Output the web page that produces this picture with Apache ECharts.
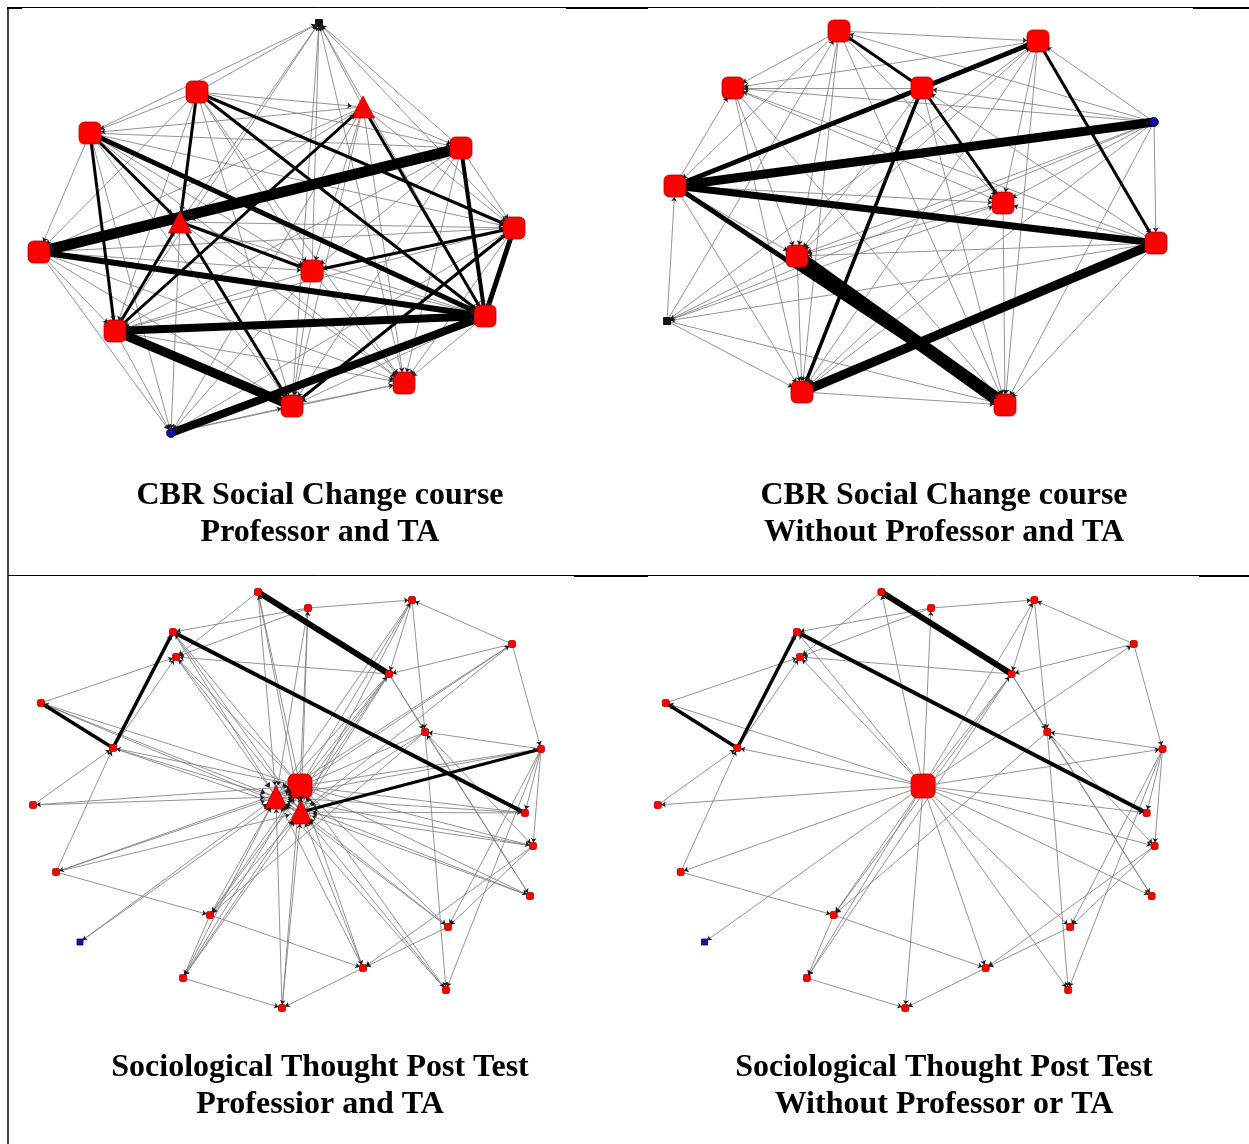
<!DOCTYPE html>
<html>
<head>
<meta charset="utf-8">
<title>Network diagrams</title>
<script src="https://cdn.jsdelivr.net/npm/echarts@6/dist/echarts.min.js"></script>
<style>
  html, body { margin: 0; padding: 0; background: #ffffff; }
  #chart { width: 1249px; height: 1144px; }
</style>
</head>
<body>
<div id="chart"></div>
<script>
// ---------------------------------------------------------------
// CBR Social Change course, professor and TA included
// node: [id, layoutX, layoutY, role]
// ---------------------------------------------------------------
const cbrWithNodes = [
  ['Z', 311, 15, 'other'],
  ['a', 189, 84, 'student'],
  ['TA1', 355, 99, 'instructor'],
  ['b', 82, 125, 'student'],
  ['c', 453, 140, 'student'],
  ['TP', 172, 214, 'instructor'],
  ['d', 31, 244, 'student'],
  ['e', 506, 220, 'student'],
  ['f', 304, 263, 'student'],
  ['g', 477, 308, 'student'],
  ['h', 107, 323, 'student'],
  ['i', 396, 375, 'student'],
  ['j', 284, 398, 'student'],
  ['k', 163, 425, 'community']
];

// tie: [from, to, strength]
const cbrWithLinks = [
  ['c', 'd', 11], ['g', 'd', 6], ['g', 'h', 8], ['j', 'h', 9], ['k', 'g', 8], ['b', 'g', 5], ['b', 'h', 3],
  ['b', 'TP', 3], ['TP', 'f', 3], ['a', 'TP', 3], ['a', 'e', 3], ['a', 'g', 3], ['h', 'TA1', 3], ['TA1', 'g', 3], ['TP', 'j', 3],
  ['h', 'TP', 3], ['c', 'g', 4], ['e', 'g', 5], ['e', 'f', 3], ['j', 'e', 3],
  ['a', 'Z', 1], ['TA1', 'Z', 1], ['b', 'Z', 1], ['c', 'Z', 1], ['TP', 'Z', 1], ['e', 'Z', 1], ['f', 'Z', 1],
  ['g', 'Z', 1], ['i', 'Z', 1], ['j', 'Z', 1], ['h', 'Z', 1],
  ['a', 'TA1', 1], ['a', 'b', 1], ['a', 'c', 1], ['a', 'd', 1], ['a', 'f', 1], ['a', 'h', 1], ['a', 'i', 1], ['a', 'j', 1],
  ['TA1', 'b', 1], ['TA1', 'c', 1], ['TA1', 'TP', 1], ['TA1', 'e', 1], ['TA1', 'f', 1], ['TA1', 'i', 1], ['TA1', 'j', 1], ['TA1', 'k', 1], ['TA1', 'd', 1],
  ['b', 'c', 1], ['b', 'd', 1], ['b', 'e', 1], ['b', 'f', 1], ['b', 'i', 1], ['b', 'j', 1], ['b', 'k', 1],
  ['c', 'TP', 1], ['c', 'e', 1], ['c', 'f', 1], ['c', 'h', 1], ['c', 'i', 1], ['c', 'j', 1],
  ['TP', 'd', 1], ['TP', 'e', 1], ['TP', 'g', 1], ['TP', 'i', 1], ['TP', 'k', 1],
  ['d', 'e', 1], ['d', 'f', 1], ['d', 'h', 1], ['d', 'i', 1], ['d', 'j', 1], ['d', 'k', 1],
  ['e', 'h', 1], ['e', 'i', 1], ['e', 'k', 1],
  ['f', 'g', 1], ['f', 'h', 1], ['f', 'i', 1], ['f', 'j', 1], ['f', 'k', 1],
  ['g', 'i', 1], ['g', 'j', 1],
  ['h', 'i', 1], ['h', 'k', 1],
  ['j', 'i', 1], ['k', 'i', 1],
  ['k', 'j', 1]
];

// ---------------------------------------------------------------
// CBR Social Change course, students only (own layout)
// ---------------------------------------------------------------
const cbrWithoutNodes = [
  ['q1', 211, 23, 'student'],
  ['q2', 410, 33, 'student'],
  ['q3', 105, 80, 'student'],
  ['q4', 294, 80, 'student'],
  ['qb', 526, 114, 'community'],
  ['q5', 47, 178, 'student'],
  ['q6', 375, 195, 'student'],
  ['q7', 528, 235, 'student'],
  ['q8', 169, 248, 'student'],
  ['qz', 39, 313, 'other'],
  ['q9', 174, 384, 'student'],
  ['q10', 377, 397, 'student']
];

const cbrWithoutLinks = [
  ['q8', 'q10', 13], ['q5', 'qb', 9], ['q7', 'q9', 9], ['q5', 'q7', 7], ['q5', 'q10', 5], ['q4', 'q5', 5], ['q2', 'q4', 5],
  ['q4', 'q9', 3.5], ['q4', 'q1', 3], ['q4', 'q6', 3], ['q2', 'q7', 3],
  ['q1', 'q2', 1], ['q1', 'q3', 1], ['q1', 'q5', 1], ['q1', 'q8', 1], ['q1', 'q9', 1], ['q1', 'q10', 1], ['q1', 'q6', 1], ['qb', 'q1', 1], ['qz', 'q1', 1],
  ['q2', 'q3', 1], ['q2', 'q8', 1], ['q2', 'q9', 1], ['q2', 'q10', 1], ['qb', 'q2', 1], ['q2', 'q6', 1], ['qz', 'q2', 1],
  ['q4', 'q3', 1], ['q5', 'q3', 1], ['q3', 'q8', 1], ['q3', 'q9', 1], ['q3', 'q10', 1], ['qb', 'q3', 1], ['q3', 'q6', 1], ['q7', 'q3', 1],
  ['qb', 'q4', 1], ['q4', 'q8', 1], ['q4', 'q10', 1], ['q7', 'q4', 1],
  ['qb', 'q7', 1], ['qb', 'q8', 1], ['qb', 'q9', 1], ['qb', 'q6', 1], ['qb', 'qz', 1], ['qb', 'q10', 1],
  ['q5', 'q6', 1], ['qz', 'q5', 1], ['q5', 'q9', 1], ['q5', 'q8', 1],
  ['q6', 'q8', 1], ['q6', 'q9', 1], ['q7', 'q6', 1], ['q6', 'q10', 1], ['qz', 'q6', 1],
  ['q7', 'q8', 1], ['q7', 'q10', 1], ['q7', 'qz', 1],
  ['q8', 'q9', 1], ['q8', 'qz', 1],
  ['qz', 'q9', 1], ['qz', 'q10', 1],
  ['q9', 'q10', 1]
];

// ---------------------------------------------------------------
// Sociological Thought post test (one layout shared by both views)
// ---------------------------------------------------------------
const socNodes = [
  ['A', 250, 16, 'student'],
  ['B', 404, 24, 'student'],
  ['C', 300, 32, 'student'],
  ['D', 165, 56, 'student'],
  ['E', 504, 68, 'student'],
  ['F', 168, 81, 'student'],
  ['G', 381, 98, 'student'],
  ['H', 33, 127, 'student'],
  ['I', 417, 156, 'student'],
  ['J', 105, 172, 'student'],
  ['K', 533, 173, 'student'],
  ['P', 292, 210, 'hub'],
  ['T1', 268, 221, 'instructor'],
  ['T2', 293, 236, 'instructor'],
  ['L', 25, 229, 'student'],
  ['M', 517, 237, 'student'],
  ['N', 525, 270, 'student'],
  ['O', 48, 296, 'student'],
  ['Q', 522, 320, 'student'],
  ['R', 202, 339, 'student'],
  ['S', 440, 351, 'student'],
  ['Tb', 72, 366, 'community'],
  ['U', 355, 392, 'student'],
  ['V', 175, 402, 'student'],
  ['W', 438, 414, 'student'],
  ['X', 274, 432, 'student']
];

const socPeerLinks = [
  ['G', 'A', 6], ['D', 'M', 4], ['J', 'D', 3.5], ['J', 'H', 3.5],
  ['P', 'A', 1], ['P', 'C', 1], ['P', 'G', 1], ['P', 'B', 1], ['P', 'K', 1], ['P', 'J', 1], ['P', 'H', 1],
  ['P', 'L', 1], ['P', 'O', 1], ['P', 'Tb', 1], ['P', 'R', 1], ['P', 'V', 1], ['P', 'X', 1], ['P', 'U', 1],
  ['P', 'S', 1], ['P', 'W', 1], ['P', 'Q', 1], ['P', 'N', 1], ['P', 'M', 1], ['P', 'F', 1], ['P', 'D', 1], ['P', 'E', 1],
  ['A', 'F', 1], ['C', 'B', 1], ['C', 'D', 1], ['C', 'F', 1], ['B', 'G', 1], ['B', 'I', 1], ['E', 'B', 1],
  ['G', 'R', 1], ['G', 'V', 1], ['E', 'G', 1], ['E', 'K', 1], ['G', 'F', 1], ['G', 'I', 1], ['G', 'Q', 1],
  ['K', 'I', 1], ['I', 'N', 1], ['I', 'R', 1], ['K', 'N', 1], ['K', 'S', 1], ['K', 'W', 1], ['N', 'S', 1],
  ['N', 'U', 1], ['J', 'F', 1], ['L', 'J', 1], ['O', 'J', 1], ['H', 'F', 1], ['O', 'R', 1], ['R', 'U', 1],
  ['R', 'V', 1], ['V', 'X', 1], ['U', 'X', 1], ['S', 'U', 1], ['I', 'W', 1], ['Q', 'I', 1], ['K', 'M', 1]
];

const socInstructorLinks = [
  ['K', 'T2', 3],
  ['A', 'T1', 1], ['B', 'T1', 1], ['C', 'T1', 1], ['D', 'T1', 1], ['F', 'T1', 1], ['G', 'T1', 1], ['H', 'T1', 1],
  ['J', 'T1', 1], ['L', 'T1', 1], ['O', 'T1', 1], ['R', 'T1', 1], ['Tb', 'T1', 1], ['V', 'T1', 1], ['X', 'T1', 1],
  ['U', 'T1', 1], ['E', 'T1', 1], ['I', 'T1', 1], ['S', 'T1', 1], ['W', 'T1', 1], ['Q', 'T1', 1], ['N', 'T1', 1],
  ['M', 'T1', 1], ['K', 'T1', 1],
  ['A', 'T2', 1], ['B', 'T2', 1], ['C', 'T2', 1], ['D', 'T2', 1], ['E', 'T2', 1], ['F', 'T2', 1], ['G', 'T2', 1],
  ['I', 'T2', 1], ['M', 'T2', 1], ['N', 'T2', 1], ['Q', 'T2', 1], ['S', 'T2', 1], ['W', 'T2', 1], ['U', 'T2', 1],
  ['X', 'T2', 1], ['V', 'T2', 1], ['R', 'T2', 1], ['O', 'T2', 1], ['J', 'T2', 1], ['H', 'T2', 1],
  ['T1', 'P', 1], ['T2', 'P', 1], ['T1', 'T2', 1]
];

// panel captions
const captions = [
  ['CBR Social Change course', 'Professor and TA'],
  ['CBR Social Change course', 'Without Professor and TA'],
  ['Sociological Thought Post Test', 'Professior and TA'],
  ['Sociological Thought Post Test', 'Without Professor or TA']
];

// ---------------------------------------------------------------
// drawing
// ---------------------------------------------------------------
const RED = '#ff0000', RED_EDGE = '#b40000';
const cbrStyle = {
  student:    { symbol: 'roundRect', size: 22, color: RED, border: RED_EDGE },
  instructor: { symbol: 'triangle', size: [23, 22], color: RED, border: RED_EDGE },
  community:  { symbol: 'circle', size: 9, color: '#10109a', border: '#000050' },
  other:      { symbol: 'rect', size: 7, color: '#111111', border: '#000000' }
};
const socStyle = {
  student:    { symbol: 'roundRect', size: 7, color: RED, border: RED_EDGE },
  hub:        { symbol: 'roundRect', size: 24, color: RED, border: RED_EDGE },
  instructor: { symbol: 'triangle', size: [23, 24], color: RED, border: RED_EDGE },
  community:  { symbol: 'rect', size: 6, color: '#1414b4', border: '#000060' }
};

const PANEL_W = 620, PANEL_H = 568;
const panels = [
  { nodes: cbrWithNodes, links: cbrWithLinks, style: cbrStyle, left: 8, top: 8, captionTop: 477 },
  { nodes: cbrWithoutNodes, links: cbrWithoutLinks, style: cbrStyle, left: 628, top: 8, captionTop: 477 },
  { nodes: socNodes, links: socPeerLinks.concat(socInstructorLinks), style: socStyle, left: 8, top: 576, captionTop: 1049 },
  { nodes: socNodes.filter(n => n[3] !== 'instructor'), links: socPeerLinks, style: socStyle, left: 633, top: 576, captionTop: 1049 }
];
const captionCenters = [320, 944, 320, 944];

function graphSeries(panel, idx, arrowLayer) {
  const ids = new Set(panel.nodes.map(n => n[0]));
  const links = panel.links
    .filter(l => ids.has(l[0]) && ids.has(l[1]))
    .slice()
    .sort((p, q) => p[2] - q[2]);
  return {
    type: 'graph',
    layout: 'none',
    coordinateSystem: 'cartesian2d',
    xAxisIndex: idx,
    yAxisIndex: idx,
    silent: true,
    animation: false,
    z: arrowLayer ? 4 : 2,
    edgeSymbol: arrowLayer ? ['none', 'arrow'] : ['none', 'none'],
    edgeSymbolSize: 4.5,
    label: { show: false },
    emphasis: { disabled: true },
    data: panel.nodes.map(([id, x, y, role]) => {
      const s = panel.style[role];
      return {
        name: id,
        value: [x, y],
        symbol: s.symbol,
        symbolSize: s.size,
        itemStyle: arrowLayer
          ? { opacity: 0 }
          : { color: s.color, borderColor: s.border, borderWidth: 0.8, opacity: 1 }
      };
    }),
    links: links.map(([src, tgt, strength]) => ({
      source: src,
      target: tgt,
      lineStyle: arrowLayer
        ? { width: 0, color: '#1a1a1a', opacity: 1, curveness: 0 }
        : strength > 1
          ? { width: strength, color: '#000000', opacity: 1, curveness: 0 }
          : { width: 0.85, color: '#808080', opacity: 1, curveness: 0 }
    }))
  };
}

const grid = [], xAxis = [], yAxis = [], series = [], title = [];
panels.forEach((p, i) => {
  grid.push({ left: p.left, top: p.top, width: PANEL_W, height: PANEL_H, containLabel: false });
  xAxis.push({ type: 'value', gridIndex: i, min: 0, max: PANEL_W, show: false });
  yAxis.push({ type: 'value', gridIndex: i, min: 0, max: PANEL_H, inverse: true, show: false });
  series.push(graphSeries(p, i, false));
  series.push(graphSeries(p, i, true));
  title.push({
    text: captions[i].join('\n'),
    left: captionCenters[i],
    top: p.captionTop,
    textAlign: 'center',
    padding: 0,
    itemGap: 0,
    textStyle: {
      fontFamily: '"Liberation Serif", "Times New Roman", serif',
      fontWeight: 'bold',
      fontSize: 32,
      lineHeight: 37,
      color: '#000000'
    }
  });
});

// table rules framing the four cells
const rule = (x1, y1, x2, y2, w) => ({
  type: 'line', silent: true, z: 10,
  shape: { x1, y1, x2, y2 },
  style: { stroke: '#000000', lineWidth: w }
});
const graphic = [
  rule(8, 7.5, 1249, 7.5, 1),
  rule(7, 8, 22, 8, 2),
  rule(566, 8, 648, 8, 2),
  rule(1193, 8, 1249, 8, 2),
  rule(8, 575.5, 1249, 575.5, 1),
  rule(574, 576, 648, 576, 2),
  rule(1199, 576, 1249, 576, 2),
  rule(8, 7, 8, 1144, 1.5)
];

const chart = echarts.init(document.getElementById('chart'), null, { renderer: 'canvas' });
chart.setOption({
  animation: false,
  backgroundColor: '#ffffff',
  title, grid, xAxis, yAxis, series, graphic
});
</script>
</body>
</html>
